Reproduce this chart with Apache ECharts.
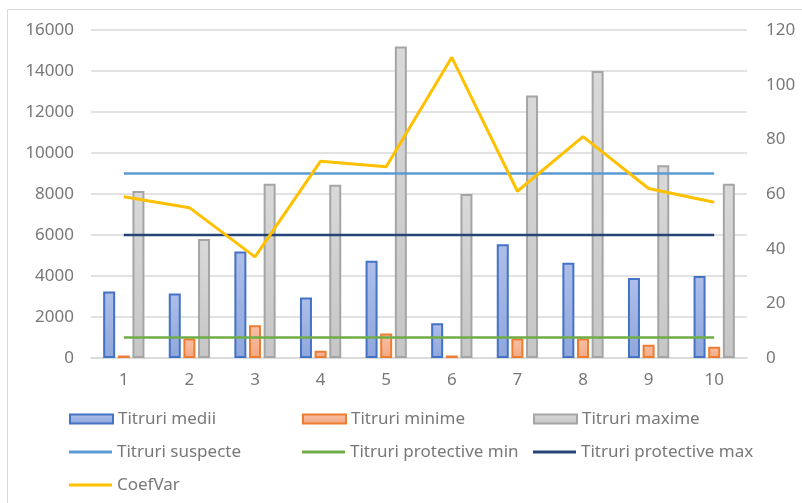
<!DOCTYPE html>
<html><head><meta charset="utf-8">
<script src="https://cdn.jsdelivr.net/npm/echarts@6/dist/echarts.min.js"></script>
<style>html,body{margin:0;padding:0;background:#fff}#c{width:802px;height:503px}</style>
</head><body><div id="c"></div>
<script>
const categories = ['1','2','3','4','5','6','7','8','9','10'];
const titruriMedii = [3250, 3150, 5200, 2950, 4750, 1700, 5550, 4650, 3900, 4000];
const titruriMinime = [120, 950, 1600, 350, 1200, 120, 950, 950, 650, 550];
const titruriMaxime = [8150, 5800, 8500, 8450, 15200, 8000, 12800, 14000, 9400, 8500];
const titruriSuspecte = [9000, 9000, 9000, 9000, 9000, 9000, 9000, 9000, 9000, 9000];
const protectiveMin = [1000, 1000, 1000, 1000, 1000, 1000, 1000, 1000, 1000, 1000];
const protectiveMax = [6000, 6000, 6000, 6000, 6000, 6000, 6000, 6000, 6000, 6000];
const coefVar = [59, 55, 37, 72, 70, 110, 61, 81, 62, 57];
const leftTicks = {min: 0, max: 16000, interval: 2000};
const rightTicks = {min: 0, max: 120, interval: 20};

const FONT = 'Noto Sans';
const TXT = '#787878';
const chart = echarts.init(document.getElementById('c'), null, {renderer: 'canvas'});

function grad(top, bottom) {
  return new echarts.graphic.LinearGradient(0, 0, 0, 1, [{offset: 0, color: top}, {offset: 1, color: bottom}]);
}

const names = ['Titruri medii','Titruri minime','Titruri maxime','Titruri suspecte','Titruri protective min','Titruri protective max','CoefVar'];
const legendPos = [[69,419,'bar'],[302,419,'bar'],[533,419,'bar'],[69,452,'line'],[302,452,'line'],[533,452,'line'],[69,485,'line']];
const legends = names.map((n, i) => {
  const p = legendPos[i];
  const isBar = p[2] === 'bar';
  return {
    data: [n], left: p[0], top: p[1] - 9, itemWidth: 43, itemHeight: isBar ? 9 : 3,
    icon: 'rect', itemGap: 0, padding: 0,
    textStyle: {fontFamily: FONT, fontSize: 17, color: TXT, padding: [0,0,0,0], lineHeight: 18},
    selectedMode: false
  };
});

const barCommon = {type: 'bar', barWidth: 12, barGap: '22%', barCategoryGap: '37%'};
const lineCommon = {type: 'line', symbol: 'none', showSymbol: false, z: 5};
const plain = v => String(v);

chart.setOption({
  animation: false,
  backgroundColor: '#fff',
  textStyle: {fontFamily: FONT},
  graphic: [{type: 'rect', shape: {x: 7.5, y: 9.5, width: 900, height: 600}, style: {fill: 'none', stroke: '#d9d9d9', lineWidth: 1}, silent: true}],
  legend: legends,
  grid: {left: 91, right: 55, top: 30, bottom: 145},
  xAxis: {
    type: 'category', data: categories, boundaryGap: true,
    axisLine: {show: true, lineStyle: {color: '#d9d9d9', width: 1.5}},
    axisTick: {show: false},
    axisLabel: {fontFamily: FONT, fontSize: 17, color: TXT, margin: 14}
  },
  yAxis: [
    {type: 'value', min: leftTicks.min, max: leftTicks.max, interval: leftTicks.interval,
     axisLine: {show: false}, axisTick: {show: false},
     axisLabel: {fontFamily: FONT, fontSize: 17, color: TXT, margin: 17, formatter: plain},
     splitLine: {lineStyle: {color: '#d9d9d9', width: 1.5}}},
    {type: 'value', min: rightTicks.min, max: rightTicks.max, interval: rightTicks.interval, position: 'right',
     axisLine: {show: false}, axisTick: {show: false},
     axisLabel: {fontFamily: FONT, fontSize: 17, color: TXT, margin: 19, formatter: plain},
     splitLine: {show: false}}
  ],
  series: [
    Object.assign({}, barCommon, {name: names[0], data: titruriMedii,
      itemStyle: {color: grad('#aebee8', '#8fa7dc'), borderColor: '#4472c4', borderWidth: 2}}),
    Object.assign({}, barCommon, {name: names[1], data: titruriMinime,
      itemStyle: {color: grad('#f7c0a6', '#f3a883'), borderColor: '#ed7d31', borderWidth: 2}}),
    Object.assign({}, barCommon, {name: names[2], data: titruriMaxime,
      itemStyle: {color: grad('#d9d9d9', '#c6c6c6'), borderColor: '#a5a5a5', borderWidth: 2}}),
    Object.assign({}, lineCommon, {name: names[3], data: titruriSuspecte,
      lineStyle: {color: '#5b9bd5', width: 2.5}, itemStyle: {color: '#5b9bd5'}}),
    Object.assign({}, lineCommon, {name: names[4], data: protectiveMin,
      lineStyle: {color: '#70ad47', width: 2.5}, itemStyle: {color: '#70ad47'}}),
    Object.assign({}, lineCommon, {name: names[5], data: protectiveMax,
      lineStyle: {color: '#264478', width: 2.5}, itemStyle: {color: '#264478'}}),
    Object.assign({}, lineCommon, {name: names[6], data: coefVar, yAxisIndex: 1,
      lineStyle: {color: '#ffc000', width: 3}, itemStyle: {color: '#ffc000'}})
  ]
});
</script></body></html>
